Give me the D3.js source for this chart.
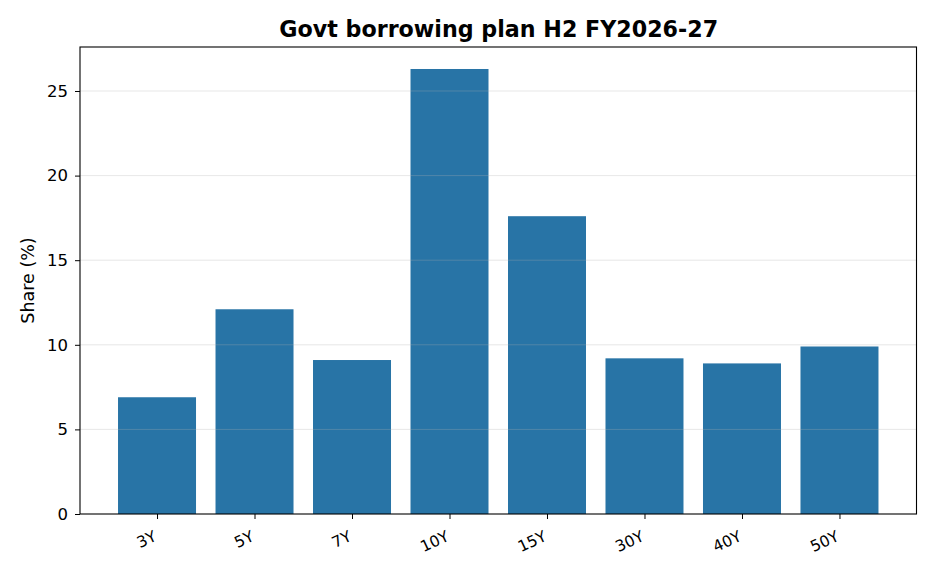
<!DOCTYPE html>
<html><head><meta charset="utf-8">
<script src="https://cdn.jsdelivr.net/npm/d3@7"></script>
<style>body{margin:0;background:#fff}svg{font-family:"DejaVu Sans",sans-serif}</style>
</head><body><svg id="c" width="936" height="572"></svg>
<script>
const categories = ["3Y","5Y","7Y","10Y","15Y","30Y","40Y","50Y"];
const shares = [6.9,12.1,9.1,26.3,17.6,9.2,8.9,9.9];
const yTicks = [0,5,10,15,20,25];
const title = "Govt borrowing plan H2 FY2026-27";
const yLabel = "Share (%)";

const svg = d3.select("#c");
const L=80,R=916.5,T=47,B=514;
const n = categories.length;
const x = d3.scaleLinear().domain([-0.4-0.05*(n-0.2), n-1+0.4+0.05*(n-0.2)]).range([L,R]);
const y = d3.scaleLinear().domain([0, 27.6]).range([B,T]);

svg.selectAll("rect.bar").data(shares).join("rect").attr("class","bar")
 .attr("x",(d,i)=>x(i-0.4)).attr("width",(d,i)=>x(i+0.4)-x(i-0.4))
 .attr("y",d=>y(d)).attr("height",d=>y(0)-y(d)).attr("fill","#2874a6");

svg.append("g").selectAll("line").data(yTicks.slice(1)).join("line")
 .attr("x1",L).attr("x2",R).attr("y1",d=>y(d)).attr("y2",d=>y(d))
 .attr("stroke","#b0b0b0").attr("stroke-opacity",0.3).attr("stroke-width",1);

const ya = svg.append("g").attr("transform",`translate(${L},0)`)
 .call(d3.axisLeft(y).tickValues(yTicks).tickSize(5).tickPadding(7).tickFormat(d3.format("d")));
ya.select(".domain").remove();
ya.selectAll("text").attr("font-size",16.5).attr("fill","#000").attr("font-family","DejaVu Sans");
ya.selectAll("line").attr("stroke","#000");

const xa = svg.append("g").attr("transform",`translate(0,${B})`)
 .call(d3.axisBottom(x).tickValues(d3.range(n)).tickSize(5).tickFormat(i=>categories[i]));
xa.select(".domain").remove();
xa.selectAll("line").attr("stroke","#000");
xa.selectAll("text").attr("font-size",15.5).attr("fill","#000").attr("font-family","DejaVu Sans")
 .attr("text-anchor","end").attr("dy",null).attr("y",0)
 .attr("transform","translate(0,26) rotate(-25)");

svg.append("rect").attr("x",L).attr("y",T).attr("width",R-L).attr("height",B-T)
 .attr("fill","none").attr("stroke","#000").attr("stroke-width",1.1);

svg.append("text").attr("x",(L+R)/2+0.5).attr("y",37).attr("text-anchor","middle")
 .attr("font-size",22.2).attr("font-weight","bold").text(title);
svg.append("text").attr("transform",`translate(34,${(T+B)/2}) rotate(-90)`)
 .attr("text-anchor","middle").attr("font-size",17.5).text(yLabel);
</script></body></html>
